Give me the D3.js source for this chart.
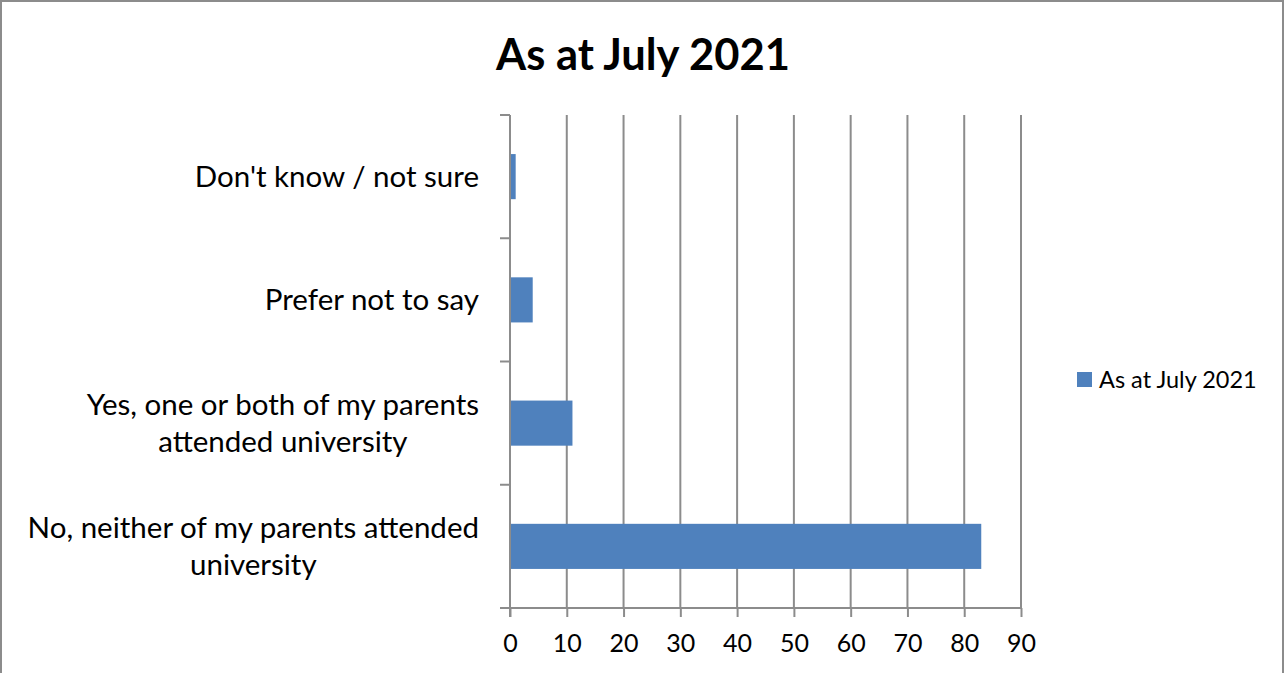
<!DOCTYPE html>
<html>
<head>
<meta charset="utf-8">
<script src="https://cdn.jsdelivr.net/npm/d3@7"></script>
<style>
  body { margin: 0; background: #fff; }
  svg { display: block; font-family: Lato, "Open Sans", sans-serif; }
</style>
</head>
<body>
<script>
// chart values
var categories = [
    "Don't know / not sure",
    "Prefer not to say",
    "Yes, one or both of my parents attended university",
    "No, neither of my parents attended university"
];
var values = [1, 4, 11, 83];
var seriesName = "As at July 2021";
var xTicks = [0, 10, 20, 30, 40, 50, 60, 70, 80, 90];

var w = 1285, h = 673;
var margin = {top: 115, left: 510, right: 264, bottom: 65};
var width = w - margin.left - margin.right,
    height = h - margin.top - margin.bottom;

var svg = d3.select("body").append("svg")
    .attr("width", w)
    .attr("height", h);

// outer frame
svg.append("rect")
    .attr("x", 1).attr("y", 1)
    .attr("width", w - 3).attr("height", h + 10)
    .attr("fill", "none")
    .attr("stroke", "#8c8c8c")
    .attr("stroke-width", 2);

svg.append("text")
    .attr("x", 643).attr("y", 70)
    .attr("text-anchor", "middle")
    .style("font-weight", "bold")
    .style("font-size", "43.5px")
    .text(seriesName);

var chart = svg.append("g")
    .attr("transform", "translate(" + margin.left + "," + margin.top + ")");

var x = d3.scaleLinear().domain([0, 90]).range([0, width]);
var y = d3.scaleBand().domain(categories).range([0, height])
    .paddingInner(0.634).paddingOuter(0.317);
var yTick = d3.scaleLinear().domain([0, categories.length]).range([0, height]);

// gridlines
chart.selectAll(".grid")
    .data(xTicks.slice(1))
    .enter().append("line")
    .attr("x1", function (d) { return x(d); })
    .attr("x2", function (d) { return x(d); })
    .attr("y1", 0).attr("y2", height)
    .attr("stroke", "#8c8c8c")
    .attr("stroke-width", 2);

// bars
chart.selectAll(".bar")
    .data(values)
    .enter().append("rect")
    .attr("x", x(0))
    .attr("y", function (d, i) { return y(categories[i]); })
    .attr("width", function (d) { return x(d) - x(0); })
    .attr("height", y.bandwidth())
    .attr("fill", "#4f81bd");

// x axis
var xAxis = d3.axisBottom(x).tickValues(xTicks).tickSize(9).tickPadding(17);
var gx = chart.append("g")
    .attr("transform", "translate(0," + height + ")")
    .call(xAxis);
gx.select(".domain").attr("stroke", "#8c8c8c").attr("stroke-width", 2)
    .attr("d", "M-10,0H" + width);
gx.selectAll(".tick line").attr("stroke", "#8c8c8c").attr("stroke-width", 2);
gx.selectAll(".tick text")
    .style("font-size", "25px")
    .style("font-family", "Lato, sans-serif")
    .attr("fill", "#000");

// y axis line + category ticks
chart.append("line")
    .attr("x1", 0).attr("x2", 0)
    .attr("y1", 0).attr("y2", height + 9)
    .attr("stroke", "#8c8c8c").attr("stroke-width", 2);
chart.selectAll(".ytick")
    .data(d3.range(categories.length))
    .enter().append("line")
    .attr("x1", -10).attr("x2", 0)
    .attr("y1", function (d) { return yTick(d); })
    .attr("y2", function (d) { return yTick(d); })
    .attr("stroke", "#8c8c8c").attr("stroke-width", 2);

// category labels, wrapped to fit
var maxW = 470, lineH = 37;
categories.forEach(function (c) {
    var cy = y(c) + y.bandwidth() / 2;
    var t = chart.append("text")
        .style("font-size", "29.5px")
        .attr("fill", "#000");
    var words = c.split(" "), lines = [], cur = [];
    words.forEach(function (wd) {
        cur.push(wd);
        t.text(cur.join(" "));
        if (t.node().getComputedTextLength() > maxW && cur.length > 1) {
            cur.pop();
            lines.push(cur.join(" "));
            cur = [wd];
        }
    });
    lines.push(cur.join(" "));
    t.text(null);
    var widths = lines.map(function (l) {
        t.text(l);
        return t.node().getComputedTextLength();
    });
    t.text(null);
    var blockW = d3.max(widths);
    var cx = -31 - blockW / 2;
    lines.forEach(function (l, i) {
        t.append("tspan")
            .attr("x", lines.length > 1 ? cx : -31)
            .attr("y", cy + (i - (lines.length - 1) / 2) * lineH)
            .attr("dy", "0.35em")
            .attr("text-anchor", lines.length > 1 ? "middle" : "end")
            .text(l);
    });
});

// legend
var legend = svg.append("g").attr("transform", "translate(1077,372)");
legend.append("rect").attr("width", 15).attr("height", 15).attr("fill", "#4f81bd");
legend.append("text")
    .attr("x", 22).attr("y", 8).attr("dy", "0.35em")
    .style("font-size", "23.5px")
    .text(seriesName);
</script>
</body>
</html>
